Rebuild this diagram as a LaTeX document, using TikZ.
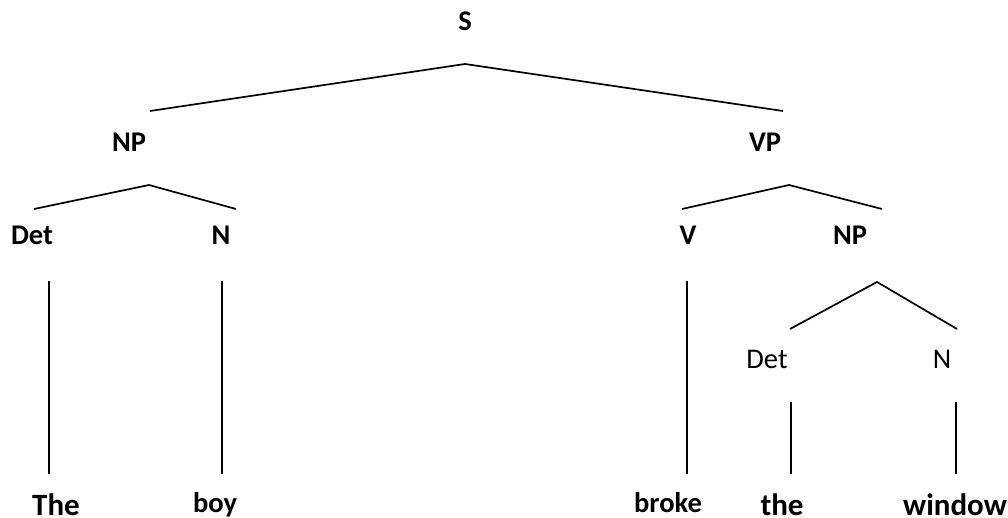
\documentclass[tikz,border=0pt]{standalone}
\usepackage{fontspec}
\setmainfont{Carlito}
\begin{document}
\begin{tikzpicture}[x=1pt,y=-1pt,
  lbl/.style={inner sep=0pt,anchor=base,font=\fontsize{28.5}{30}\selectfont\bfseries},
  lblreg/.style={inner sep=0pt,anchor=base,font=\fontsize{28.5}{30}\selectfont},
  wsmall/.style={inner sep=0pt,anchor=base,font=\fontsize{28.5}{30}\selectfont\bfseries},
  wbig/.style={inner sep=0pt,anchor=base,font=\fontsize{31}{33}\selectfont\bfseries},
  edge/.style={line width=1.7pt,black,line cap=butt}]
\useasboundingbox (0,0) rectangle (1008,518);
% labels
\node[lbl] (S) at (465,31) {S};
\node[lbl] (NPa) at (129,152) {NP};
\node[lbl] (VP) at (765,152) {VP};
\node[lbl] (Deta) at (32,245) {Det};
\node[lbl] (Na) at (221,245) {N};
\node[lbl] (V) at (688,245) {V};
\node[lbl] (NPb) at (850,245) {NP};
\node[lblreg] (Detb) at (767,368) {Det};
\node[lblreg] (Nb) at (942,368) {N};
\node[wbig] (The) at (56,515) {The};
\node[wsmall] (boy) at (215,512) {boy};
\node[wsmall] (broke) at (668,512) {broke};
\node[wbig] (the) at (782,515) {the};
\node[wbig] (window) at (955,515) {window};
% connector points
\coordinate (sA) at (465,64);
\coordinate (sL) at (150,111);
\coordinate (sR) at (783,111);
\coordinate (npA) at (149,185);
\coordinate (npL) at (34,209);
\coordinate (npR) at (236,209);
\coordinate (vpA) at (789,185);
\coordinate (vpL) at (682,209);
\coordinate (vpR) at (882,209);
\coordinate (np2A) at (877,282);
\coordinate (np2L) at (790,329);
\coordinate (np2R) at (957,329);
\coordinate (t1) at (49,281);  \coordinate (b1) at (49,474);
\coordinate (t2) at (222,281); \coordinate (b2) at (222,474);
\coordinate (t3) at (687,281); \coordinate (b3) at (687,474);
\coordinate (t4) at (791,402); \coordinate (b4) at (791,474);
\coordinate (t5) at (956,402); \coordinate (b5) at (956,474);
% connectors
\draw[edge] (sL) -- (sA) -- (sR);
\draw[edge] (npL) -- (npA) -- (npR);
\draw[edge] (vpL) -- (vpA) -- (vpR);
\draw[edge] (np2L) -- (np2A) -- (np2R);
\draw[edge] (t1) -- (b1);
\draw[edge] (t2) -- (b2);
\draw[edge] (t3) -- (b3);
\draw[edge] (t4) -- (b4);
\draw[edge] (t5) -- (b5);
\end{tikzpicture}
\end{document}
